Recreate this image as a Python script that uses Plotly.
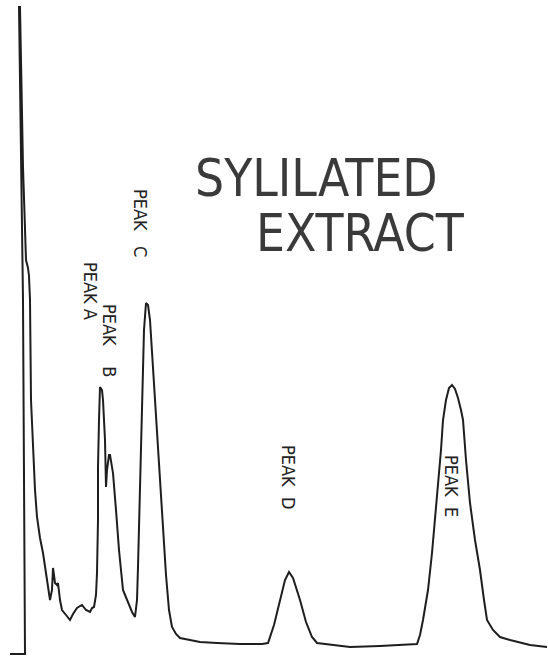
import plotly.graph_objects as go

# Recorder trace (x = chart position, y = signal height)
trace_x = [10, 25, 23, 21, 19, 20, 23, 26, 28, 29, 30, 31, 33, 35, 37, 40, 43, 46, 50, 52, 53, 54, 55, 57, 58,
           60, 62, 66, 70, 73, 77, 80, 82, 86, 90, 92, 94, 96, 97, 98, 98, 99, 100, 102, 103, 105, 106, 107,
           109, 110, 111, 113, 116, 119, 123, 128, 132, 135, 137, 138, 140, 142, 144, 146, 148, 150, 153, 157,
           160, 163, 166, 169, 172, 176, 180, 190, 200, 217, 240, 262, 268, 274, 280, 285, 289, 293, 300, 306,
           312, 317, 350, 380, 417, 420, 423, 428, 432, 435, 438, 441, 443, 446, 449, 452, 455, 458, 461, 463,
           466, 470, 475, 480, 484, 487, 493, 500, 510, 517, 530, 547]
trace_y_px = [654, 654, 300, 167, 7, 7, 167, 260, 268, 276, 300, 400, 455, 490, 517, 538, 553, 575, 600, 590,
              568, 575, 583, 585, 583, 600, 610, 615, 620, 614, 608, 606, 605, 610, 612, 608, 607, 595, 573, 520,
              467, 420, 387, 390, 400, 440, 487, 470, 455, 455, 460, 473, 510, 550, 590, 603, 612, 617, 600, 567,
              480, 400, 330, 303, 305, 320, 370, 433, 485, 533, 575, 610, 627, 634, 638, 640, 642, 643, 644, 644,
              643, 625, 600, 580, 572, 578, 600, 622, 637, 643, 647, 646, 644, 635, 620, 590, 553, 520, 487, 450,
              420, 400, 388, 385, 389, 398, 410, 420, 460, 503, 540, 570, 600, 620, 630, 637, 640, 642, 645, 647]
signal = [656 - v for v in trace_y_px]

peak_labels = ["PEAK A", "PEAK    B", "PEAK   C", "PEAK  D", "PEAK  E"]
label_x = [91, 110, 141, 289, 452]
label_y = [656 - 291, 656 - 340, 656 - 223, 656 - 477, 656 - 486]

title_lines = ["SYLILATED", "EXTRACT"]
title_x = [316, 360]
title_y = [656 - 178, 656 - 233]

FONT = "DejaVu Sans Condensed, DejaVu Sans, sans-serif"

fig = go.Figure()
fig.add_trace(go.Scatter(x=trace_x, y=signal, mode="lines",
                         line=dict(color="#1e1e1e", width=2), hoverinfo="skip", showlegend=False))

for t, x, y in zip(peak_labels, label_x, label_y):
    fig.add_annotation(x=x, y=y, text=t, textangle=90, showarrow=False,
                       font=dict(family=FONT, size=18, color="#222222"))

for t, x, y in zip(title_lines, title_x, title_y):
    fig.add_annotation(x=x, y=y, text=t, showarrow=False,
                       font=dict(family=FONT, size=51, color="#3a3a3a", weight=300))

fig.update_layout(width=548, height=656, margin=dict(l=0, r=0, t=0, b=0),
                  paper_bgcolor="white", plot_bgcolor="white")
fig.update_xaxes(range=[0, 548], visible=False)
fig.update_yaxes(range=[0, 656], visible=False)

fig.write_html("out.html")
